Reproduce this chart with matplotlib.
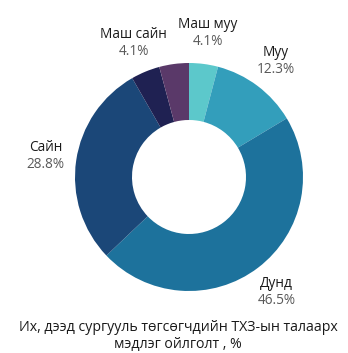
import numpy as np
import matplotlib
matplotlib.use("Agg")
import matplotlib.pyplot as plt

plt.rcParams['font.family'] = ['Open Sans', 'DejaVu Sans']

# Knowledge level shares, clockwise from the top
categories = ["Маш муу", "Муу", "Дунд", "Сайн", "Маш сайн", ""]
values = [4.1, 12.3, 46.5, 28.8, 4.1, 4.2]
colors = ["#5CC8CB", "#339EBB", "#1D729C", "#1B4778", "#1F2152", "#5A3969"]
title = "Их, дээд сургууль төгсөгчдийн ТХЗ-ын талаарх\nмэдлэг ойлголт , %"

W, H = 348, 353
fig = plt.figure(figsize=(W / 100, H / 100), dpi=100)

# axes sized so that one data unit equals the outer radius in pixels
R_px = 114
cx, cy = 189, 177
half = 1.5 * R_px
ax = fig.add_axes([(cx - half) / W, (H - cy - half) / H, 2 * half / W, 2 * half / H])

wedges, _ = ax.pie(values, colors=colors, startangle=90, counterclock=False,
                   radius=1.0, wedgeprops=dict(width=0.5, linewidth=0))
ax.set_xlim(-1.5, 1.5)
ax.set_ylim(-1.5, 1.5)
ax.set_aspect("equal")
ax.axis("off")

label_r = 1.27
for w, name, val in zip(wedges, categories, values):
    if not name:
        continue
    ang = np.deg2rad((w.theta1 + w.theta2) / 2)
    x, y = label_r * np.cos(ang), label_r * np.sin(ang)
    ax.text(x, y + 0.075, name, ha="center", va="center", fontsize=9.8, color="#1a1a1a")
    ax.text(x, y - 0.075, f"{val:.1f}%", ha="center", va="center", fontsize=9.8, color="#595959")

fig.text(178 / W, 1 - 336 / H, title, ha="center", va="center", fontsize=10.2,
         color="#1a1a1a", linespacing=1.25)

fig.savefig("out.png", dpi=100)
